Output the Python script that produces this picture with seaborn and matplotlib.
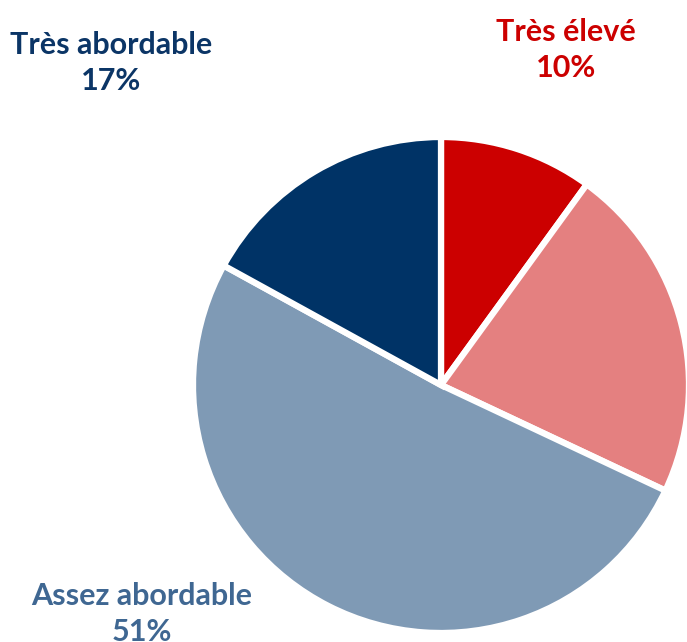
import matplotlib

matplotlib.use("Agg")
import matplotlib.pyplot as plt
import seaborn as sns

categories = ["Très élevé", "Assez élevé", "Assez abordable", "Très abordable"]
shares = [10, 22, 51, 17]
slice_colors = ["#CC0000", "#E48080", "#7F9AB5", "#003366"]
text_colors = ["#CC0000", "#E48080", "#3F6792", "#0B3566"]
# label anchor (pixels from top-left); None = outside the visible crop
label_pos = [(566, 50), None, (142, 614), (111, 63)]

W, H = 687, 642
sns.set_theme(style="white")
plt.rcParams["font.family"] = ["Lato", "DejaVu Sans"]

fig = plt.figure(figsize=(W / 100, H / 100), dpi=100)
ax = fig.add_axes([0, 0, 1, 1])

center = (441, H - 385)
ax.pie(
    shares,
    colors=slice_colors,
    startangle=90,
    counterclock=False,
    radius=248,
    center=center,
    frame=True,
    wedgeprops={"edgecolor": "white", "linewidth": 4.5},
)
ax.set_xlim(0, W)
ax.set_ylim(0, H)
ax.set_aspect("equal")
ax.axis("off")

for name, share, color, pos in zip(categories, shares, text_colors, label_pos):
    if pos is None:
        continue
    ax.text(
        pos[0], H - pos[1], f"{name}\n{share}%",
        ha="center", va="center", color=color,
        fontsize=22, fontweight="bold", linespacing=1.32,
    )

fig.savefig("out.png", dpi=100)
